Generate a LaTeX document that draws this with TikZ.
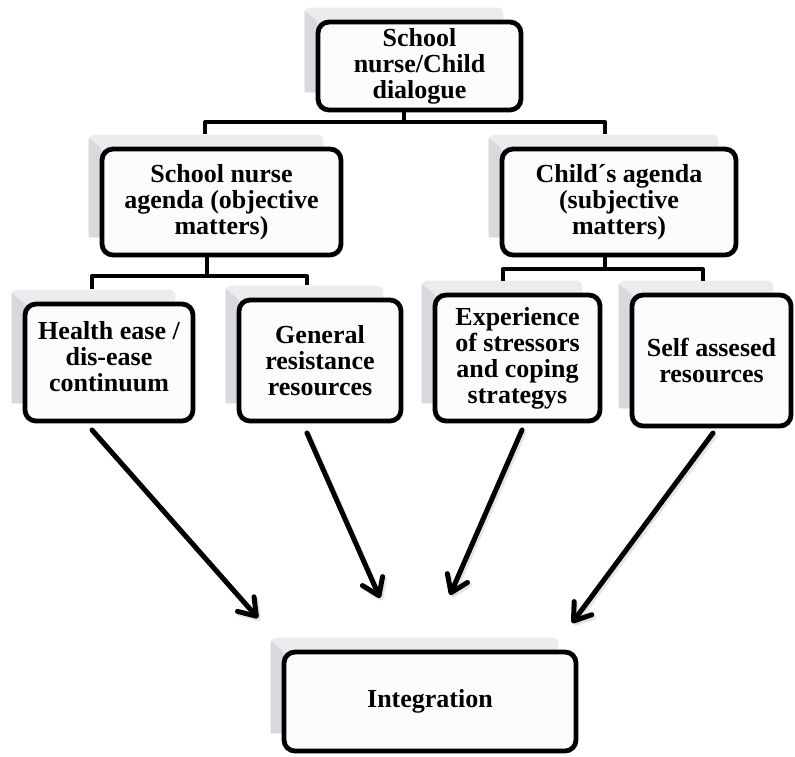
\documentclass[tikz,border=0pt]{standalone}
\usepackage{fontspec}
\setmainfont{Liberation Serif}
\usetikzlibrary{arrows.meta,calc,backgrounds}
\definecolor{boxfill}{RGB}{253,251,253}
\definecolor{paneltop}{RGB}{236,236,239}
\definecolor{panelside}{RGB}{216,216,221}
\tikzset{
  box/.style={draw=black, line width=4.8pt, rounded corners=11pt, fill=boxfill,
    align=center, font=\bfseries\fontsize{26}{26}\selectfont, inner sep=0pt},
  conn/.style={line width=4pt, line join=round},
  flow/.style={line width=5pt, line cap=round,
    -{Straight Barb[length=16pt,width=22pt,round]}},
  flowshade/.style={flow, draw=gray!45, opacity=.45,
    transform canvas={shift={(2pt,-2.5pt)}}},
}
% raised panel drawn behind a box: a flat top face and a darker left side
\newcommand\backpanel[1]{%
  \fill[paneltop, rounded corners=6pt]
    ($(#1.north west)+(-11,-12)$) rectangle ($(#1.south east)+(-20,-20)$);
  \fill[panelside]
    ($(#1.north west)+(-11,-9)$) -- ($(#1.north west)+(2,2)$) --
    ($(#1.south west)+(2,-20)$) -- ($(#1.south west)+(-11,-20)$) -- cycle;
}
\begin{document}
\begin{tikzpicture}[x=1pt,y=-1pt]
\useasboundingbox (0,0) rectangle (795,756);

% boxes
\node[box, minimum width=203pt, minimum height=88pt] (top) at (419.5,66)
  {School\\nurse/Child\\dialogue};
\node[box, minimum width=239pt, minimum height=106pt] (nurse) at (221.5,202)
  {School nurse\\agenda (objective\\matters)};
\node[box, minimum width=234pt, minimum height=106pt] (child) at (619,202)
  {Child´s agenda\\(subjective\\matters)};
\node[box, minimum width=168pt, minimum height=117pt] (health) at (109,362.5)
  {Health ease /\\dis-ease\\continuum\rule[-12pt]{0pt}{12pt}};
\node[box, minimum width=162pt, minimum height=121pt] (general) at (320,360.5)
  {General\\resistance\\resources};
\node[box, minimum width=165pt, minimum height=126pt] (stress) at (517.5,358)
  {Experience\\of stressors\\and coping\\strategys};
\node[box, minimum width=159pt, minimum height=131pt] (self) at (711.5,360.5)
  {Self assesed\\resources};
\node[box, minimum width=292pt, minimum height=99pt] (integ) at (430,701.5)
  {Integration};

% raised panels behind the boxes
\begin{scope}[on background layer]
  \foreach \b in {top,nurse,child,health,general,stress,self,integ}
    {\backpanel{\b}}
\end{scope}

% tree connectors
\coordinate (j1) at (404,122);
\coordinate (d1l) at (205,134);
\coordinate (d1r) at (605,134);
\draw[conn] (top.south -| j1) -- (j1);
\draw[conn] (d1l) |- (j1) -| (d1r);

\coordinate (j2) at (207,276);
\coordinate (d2l) at (92,289);
\coordinate (d2r) at (307,285);
\draw[conn] (nurse.south -| j2) -- (j2);
\draw[conn] (d2l) |- (j2) -| (d2r);

\coordinate (j3) at (605,269);
\coordinate (d3l) at (503,281);
\coordinate (d3r) at (703,281);
\draw[conn] (child.south -| j3) -- (j3);
\draw[conn] (d3l) |- (j3) -| (d3r);

% arrows into the integration box
\coordinate (a1) at (92,430);   \coordinate (t1) at (258,618);
\coordinate (a2) at (307,433);  \coordinate (t2) at (380,598);
\coordinate (a3) at (522,430);  \coordinate (t3) at (450,595);
\coordinate (a4) at (713,433);  \coordinate (t4) at (572,623);
\foreach \s/\t in {a1/t1,a2/t2,a3/t3,a4/t4}
  {\draw[flowshade] (\s) -- (\t);}
\foreach \s/\t in {a1/t1,a2/t2,a3/t3,a4/t4}
  {\draw[flow] (\s) -- (\t);}
\end{tikzpicture}
\end{document}
